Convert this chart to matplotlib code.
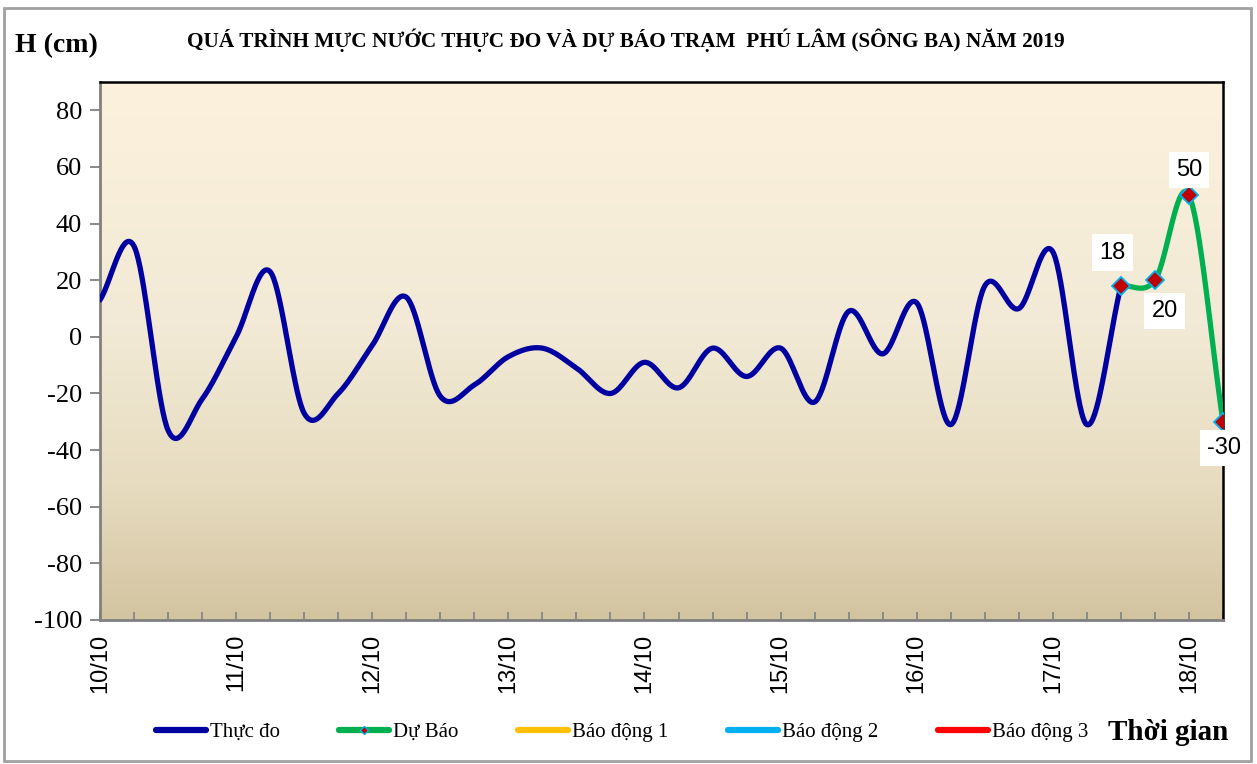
import numpy as np
import matplotlib
matplotlib.use("Agg")
import matplotlib.pyplot as plt
from matplotlib.colors import LinearSegmentedColormap
from matplotlib.lines import Line2D
from matplotlib.patches import Rectangle

# 6-hourly water level (cm), 10/10 00h -> 17/10 12h
obs_values = [13, 32, -33, -22, 0, 23, -27, -20, -3, 14, -21, -17, -7, -4, -11,
              -20, -9, -18, -4, -14, -4, -23, 9, -6, 12, -31, 18, 10, 30, -31, 18]
# forecast 17/10 12h -> 18/10 06h
fc_values = [18, 20, 50, -30]
fc_labels = ["18", "20", "50", "-30"]
day_labels = ["10/10", "11/10", "12/10", "13/10", "14/10", "15/10", "16/10", "17/10", "18/10"]
legend_names = ["Thực đo", "Dự Báo", "Báo động 1", "Báo động 2", "Báo động 3"]

SERIF = "Liberation Serif"
SANS = "Liberation Sans"


def smooth(x, y, n=40):
    # excel-like smoothed line (cubic bezier through points)
    x = np.asarray(x, float)
    y = np.asarray(y, float)
    m = len(y)
    tang = np.empty(m)
    tang[1:-1] = (y[2:] - y[:-2]) / 2
    tang[0] = y[1] - y[0]
    tang[-1] = y[-1] - y[-2]
    xs, ys = [], []
    t = np.linspace(0, 1, n)
    for i in range(m - 1):
        p0, p3 = y[i], y[i + 1]
        p1 = p0 + tang[i] / 3
        p2 = p3 - tang[i + 1] / 3
        b = (1 - t) ** 3 * p0 + 3 * (1 - t) ** 2 * t * p1 + 3 * (1 - t) * t ** 2 * p2 + t ** 3 * p3
        xs.append(x[i] + t * (x[i + 1] - x[i]))
        ys.append(b)
    return np.concatenate(xs), np.concatenate(ys)


fig = plt.figure(figsize=(12.57, 7.64), dpi=100)
fig.patch.set_facecolor("white")
fig.add_artist(Rectangle((0.003, 0.004), 0.992, 0.985, transform=fig.transFigure,
                         fill=False, edgecolor="#A0A0A0", linewidth=2))

ax = fig.add_axes([100 / 1257, 1 - 620 / 764, 1123 / 1257, 538 / 764])

# background gradient
cmap = LinearSegmentedColormap.from_list(
    "bg", [(0.0, "#D3C4A0"), (0.25, "#E7DCC0"), (0.55, "#F2EAD6"), (1.0, "#FCF1DC")])
grad = np.linspace(0, 1, 256).reshape(-1, 1)
ax.imshow(grad, aspect="auto", cmap=cmap, origin="lower",
          extent=[0, 1, 0, 1], transform=ax.transAxes, zorder=0)

x_obs = np.arange(len(obs_values))
x_fc = np.arange(len(fc_values)) + len(obs_values) - 1

sx, sy = smooth(x_obs, obs_values)
ax.plot(sx, sy, color="#0000A0", lw=3.8, solid_capstyle="round", zorder=3)
fx, fy = smooth(x_fc, fc_values)
ax.plot(fx, fy, color="#00B050", lw=3.8, solid_capstyle="round", zorder=3)
ax.plot(x_fc, fc_values, ls="none", marker="D", ms=9, mfc="#C00000",
        mec="#00B0F0", mew=1.3, zorder=4)

offsets = [(-6, 24), (7, -22), (0, 18), (1, -19)]
for xv, yv, lab, off in zip(x_fc, fc_values, fc_labels, offsets):
    ax.annotate(lab, (xv, yv), xytext=off, textcoords="offset points",
                ha="center", va="center", fontsize=17, family=SANS, zorder=5,
                bbox=dict(boxstyle="square,pad=0.3", fc="white", ec="none"),
                annotation_clip=False)

ax.set_xlim(0, 33)
ax.set_ylim(-100, 90)
ax.set_yticks(np.arange(-100, 81, 20))
ax.set_yticklabels([str(v) for v in range(-100, 81, 20)], family=SERIF, fontsize=19)
ax.tick_params(axis="y", direction="out", length=7, width=1.3, color="#808080", pad=6)

ax.set_xticks(np.arange(0, 33, 4))
ax.set_xticklabels(day_labels, rotation=90, family=SANS, fontsize=17)
ax.set_xticks(np.arange(0, 34, 1), minor=True)
ax.tick_params(axis="x", which="both", direction="in", length=6, width=1.2,
               color="#808080", pad=10)

for side in ["left", "bottom"]:
    ax.spines[side].set_color("#808080")
    ax.spines[side].set_linewidth(2)
for side in ["top", "right"]:
    ax.spines[side].set_color("black")
    ax.spines[side].set_linewidth(1.8)

fig.text(15 / 1257, 1 - 46 / 764, "H (cm)", family=SERIF, fontweight="bold",
         fontsize=20, va="center", ha="left")
fig.text(626 / 1257, 1 - 40 / 764,
         "QUÁ TRÌNH MỰC NƯỚC THỰC ĐO VÀ DỰ BÁO TRẠM  PHÚ LÂM (SÔNG BA) NĂM 2019",
         family=SERIF, fontweight="bold", fontsize=15.3, va="center", ha="center")
fig.text(1228 / 1257, 1 - 732 / 764, "Thời gian", family=SERIF, fontweight="bold",
         fontsize=21, va="center", ha="right")

handles = [
    Line2D([], [], color="#0000A0", lw=4.5, solid_capstyle="round"),
    Line2D([], [], color="#00B050", lw=4.5, solid_capstyle="round", marker="D",
           ms=4, mfc="#C00000", mec="#00B0F0"),
    Line2D([], [], color="#FFC000", lw=4.5, solid_capstyle="round"),
    Line2D([], [], color="#00B0F0", lw=4.5, solid_capstyle="round"),
    Line2D([], [], color="#FF0000", lw=4.5, solid_capstyle="round"),
]
fig.legend(handles, legend_names, loc="center left",
           bbox_to_anchor=(137 / 1257, 1 - 732 / 764),
           ncol=5, frameon=False, prop=dict(family=SERIF, size=15),
           handlelength=2.4, handletextpad=0.2, columnspacing=2.85)

fig.savefig("out.png", dpi=100)
